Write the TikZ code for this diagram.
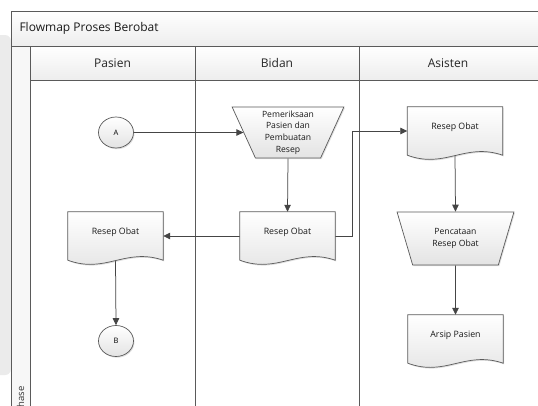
\documentclass[tikz,border=0pt]{standalone}
\usepackage{fontspec}
\setmainfont{Open Sans}
\usetikzlibrary{shapes.geometric,arrows.meta,shadows,calc}
\pgfdeclarelayer{connlayer}
\pgfdeclarelayer{shapelayer}
\pgfsetlayers{connlayer,shapelayer,main}
\definecolor{frameline}{HTML}{5A5A5A}
\definecolor{conn}{HTML}{454545}
\definecolor{outgray}{HTML}{EBEBEB}
\tikzset{
  lane/.style={draw=frameline, line width=0.8pt},
  band/.style={top color=white, bottom color=black!7, draw=frameline, line width=0.8pt},
  arrow/.style={draw=conn, line width=0.75pt, -{Triangle[length=7pt,width=6.5pt]}},
  shapefill/.style={draw=frameline, line width=0.7pt, top color=white, bottom color=black!11,
    drop shadow={shadow xshift=1pt, shadow yshift=-1.2pt, opacity=0.25}},
  docnode/.style={minimum width=95pt, minimum height=48pt, inner sep=0pt,
    text height=22pt, text depth=26pt, font=\fontsize{8.8}{10}\selectfont, text=black!90},
  proc/.style={trapezium, trapezium stretches=true, shape border rotate=180,
    trapezium left angle=67, trapezium right angle=67, inner sep=0pt,
    shapefill, align=center, font=\fontsize{8.6}{11.7}\selectfont, text=black!90},
  conncircle/.style={ellipse, minimum width=35pt, minimum height=31pt, inner sep=0pt,
    shapefill, font=\fontsize{7.5}{9}\selectfont},
  headtext/.style={font=\fontsize{12}{14}\selectfont, text=black!85},
}
\newcommand{\docoutline}[1]{%
  \path[shapefill] (#1.north west) -- (#1.north east) -- (#1.south east)
    .. controls ($(#1.south east)+(-38pt,13pt)$) and ($(#1.south west)+(38pt,-14pt)$) .. (#1.south west) -- cycle;}
\begin{document}
\begin{tikzpicture}[x=1pt,y=-1pt]
\useasboundingbox (0,0) rectangle (538,405);
\clip (0,0) rectangle (538,405);
\begin{pgfonlayer}{connlayer}
\fill[white] (0,0) rectangle (538,405);
% outside gray strip
\fill[outgray, rounded corners=6pt] (-10,35) rectangle (11,375);
% frame
\path[band] (11,11) rectangle (560,46);
\path[band] (30,46) rectangle (560,80);
\path[fill=black!3, draw=frameline, line width=0.8pt] (11,46) rectangle (30,420);
\draw[lane] (195,46) -- (195,420);
\draw[lane] (359,46) -- (359,420);
\end{pgfonlayer}
% texts
\node[headtext, anchor=west, text=black!90] (title) at (16,28.5) {Flowmap Proses Berobat};
\node[headtext] (h1) at (112.5,63) {Pasien};
\node[headtext] (h2) at (277,63) {Bidan};
\node[headtext] (h3) at (448,63) {Asisten};
\node[rotate=90, anchor=east, font=\fontsize{9.5}{10}\selectfont, text=black!80] (phase) at (20.5,383) {Phase};
% shapes
\node[conncircle] (A) at (116,132.5) {A};
\node[conncircle] (B) at (116,341) {B};
\node[proc, minimum width=112pt, minimum height=51pt] (P1) at (288,132.5) {Pemeriksaan\\Pasien dan\\Pembuatan\\Resep};
\node[proc, minimum width=117pt, minimum height=53pt] (P2) at (455.5,238.5) {Pencataan\\Resep Obat};
\node[docnode] (D1) at (287.5,236) {Resep Obat};
\node[docnode] (D2) at (115.5,236) {Resep Obat};
\node[docnode] (D3) at (455,131) {Resep Obat};
\node[docnode] (D4) at (455.5,339) {Arsip Pasien};
% document outlines
\begin{pgfonlayer}{shapelayer}
\docoutline{D1}\docoutline{D2}\docoutline{D3}\docoutline{D4}
\end{pgfonlayer}
% connectors
\begin{pgfonlayer}{connlayer}
\draw[arrow] (A) -- (P1);
\draw[arrow] (P1.south) -- (D1.north);
\draw[arrow] (D1.west) -- (D2.east);
\draw[arrow] (D2.south) -- (B.north);
\draw[arrow] (D1.east) -- ++(17,0) |- (D3.west);
\draw[arrow] (D3.south) -- (P2.north);
\draw[arrow] (P2.south) -- (D4.north);
\end{pgfonlayer}
\end{tikzpicture}
\end{document}
